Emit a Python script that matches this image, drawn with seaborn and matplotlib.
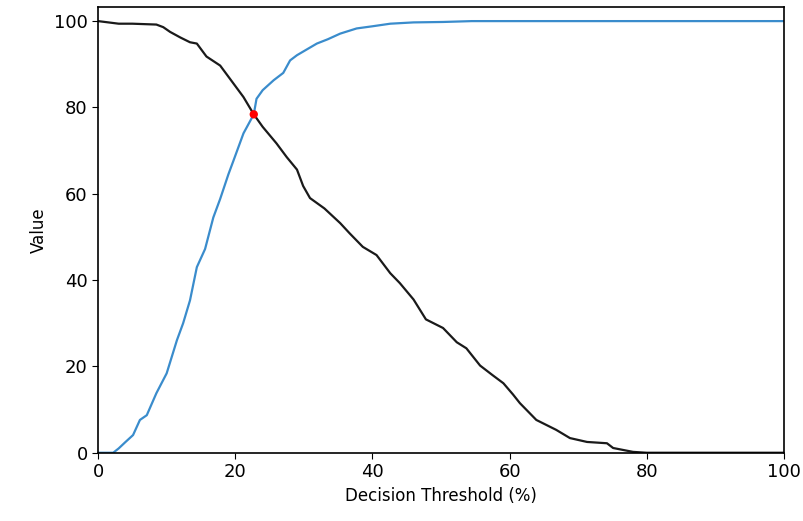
import matplotlib
matplotlib.use("Agg")
import matplotlib.pyplot as plt
import seaborn as sns
import pandas as pd

# Black curve (falls from 100 to 0)
spec_x = [0, 1, 3, 5, 8.5, 9.5, 10.5, 12, 13.4, 14.4, 15.8, 17.8, 19.2, 21.2, 22.7, 24, 26, 27.5,
          29, 29.9, 30.9, 33, 35.3, 36.7, 38.6, 40.6, 42.6, 44, 46, 47.8, 50.3, 52.3, 53.7, 55.7,
          57.5, 59.1, 60.5, 61.5, 63.9, 66.8, 68.8, 71.3, 74.2, 75.1, 78, 80, 90, 100]
spec_y = [100, 99.8, 99.4, 99.4, 99.2, 98.6, 97.5, 96.2, 95.1, 94.8, 91.8, 89.7, 86.7, 82.4, 78.4,
          75.5, 71.7, 68.5, 65.6, 61.8, 59.0, 56.6, 53.2, 50.8, 47.7, 45.8, 41.6, 39.3, 35.5, 30.9,
          28.9, 25.6, 24.2, 20.2, 18, 16.1, 13.5, 11.5, 7.6, 5.3, 3.4, 2.5, 2.2, 1.1, 0.2, 0, 0, 0]

# Blue curve (rises from 0 to 100)
sens_x = [0, 2.2, 3, 4, 5.1, 6.1, 7.1, 8.5, 10, 11.5, 12.4, 13.4, 14.4, 15.6, 16.8, 17.8, 19, 19.7,
          21.2, 22.7, 23.1, 24, 25.6, 27, 28, 29, 30.5, 31.9, 33.5, 35.3, 37.7, 40, 42.6, 46, 50.3,
          54.5, 60, 70, 80, 90, 100]
sens_y = [0, 0, 1, 2.5, 4.1, 7.6, 8.7, 13.8, 18.4, 26.1, 30, 35.3, 43, 47.2, 54.5, 58.8, 64.5, 67.5,
          74, 78.4, 82.0, 84, 86.3, 88, 90.9, 92.1, 93.5, 94.8, 95.8, 97.1, 98.3, 98.8, 99.4, 99.7,
          99.8, 100, 100, 100, 100, 100, 100]

# Crossing point
cross_x = [22.7]
cross_y = [78.4]

x_ticks = [0, 20, 40, 60, 80, 100]
y_ticks = [0, 20, 40, 60, 80, 100]

plt.rcParams['font.family'] = ['DejaVu Sans']
plt.rcParams['font.size'] = 13

fig = plt.figure(figsize=(8.04, 5.21), dpi=100)
ax = fig.add_axes([0.122, 0.131, 0.853, 0.855])

df_spec = pd.DataFrame({"x": spec_x, "y": spec_y})
df_sens = pd.DataFrame({"x": sens_x, "y": sens_y})
df_cross = pd.DataFrame({"x": cross_x, "y": cross_y})

sns.lineplot(data=df_sens, x="x", y="y", ax=ax, color="#3a8ccc", linewidth=1.6, estimator=None)
sns.lineplot(data=df_spec, x="x", y="y", ax=ax, color="#1a1a1a", linewidth=1.6, estimator=None)
sns.scatterplot(data=df_cross, x="x", y="y", ax=ax, color="red", s=36, edgecolor="none", zorder=5)

ax.set_xlim(0, 100)
ax.set_ylim(0, 103.2)
ax.set_xticks(x_ticks)
ax.set_yticks(y_ticks)
ax.set_xlabel("Decision Threshold (%)", fontsize=12)
ax.set_ylabel("Value", fontsize=12)
ax.tick_params(labelsize=13, length=4)
for s in ax.spines.values():
    s.set_linewidth(1.2)

fig.savefig("out.png", dpi=100)
